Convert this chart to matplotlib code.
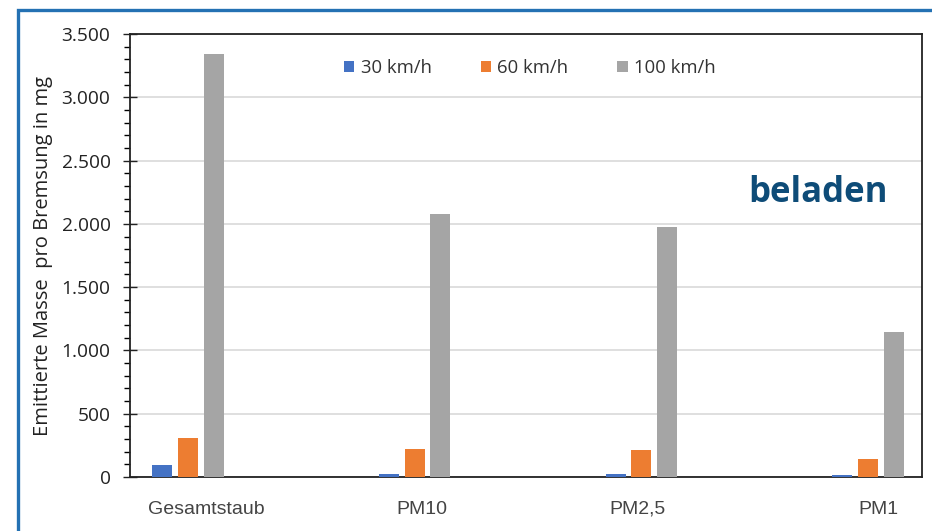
import matplotlib.pyplot as plt
from matplotlib.patches import Rectangle
from matplotlib.ticker import MultipleLocator, FuncFormatter
import numpy as np

# Emittierte Masse pro Bremsung in mg, beladenes Fahrzeug
kategorien = ['Gesamtstaub', 'PM10', 'PM2,5', 'PM1']
serien = ['30 km/h', '60 km/h', '100 km/h']
werte_30 = [95, 25, 22, 17]
werte_60 = [305, 219, 213, 140]
werte_100 = [3340, 2078, 1975, 1146]

farben = ['#4472C4', '#ED7D31', '#A5A5A5']

fig = plt.figure(figsize=(9.32, 5.31), dpi=100)
fig.patch.set_facecolor('white')

# blauer Rahmen oben und links
fig.patches.append(Rectangle((18 / 932, -0.2), 2, (531 - 10) / 531 + 0.2,
                             transform=fig.transFigure, fill=False,
                             edgecolor='#2471B3', linewidth=2.4, clip_on=False))

ax = fig.add_axes([130 / 932, 54 / 531, 792 / 932, 443 / 531])

x = np.arange(len(kategorien))
breite = 0.088
abstand = 0.113
for i, (werte, name) in enumerate(zip([werte_30, werte_60, werte_100], serien)):
    ax.bar(x + (i - 1) * abstand, werte, breite, color=farben[i], label=name, zorder=3)

ax.set_xlim(-0.256, 3.238)
ax.set_ylim(0, 3500)
ax.yaxis.set_major_locator(MultipleLocator(500))
ax.yaxis.set_minor_locator(MultipleLocator(100))
ax.yaxis.set_major_formatter(FuncFormatter(lambda v, p: f'{int(v):,}'.replace(',', '.')))
ax.tick_params(axis='y', which='major', direction='inout', length=10, width=1,
               labelsize=13.8, pad=9, colors='#222222')
ax.tick_params(axis='y', which='minor', direction='out', length=4, width=1)
for lbl in ax.get_yticklabels():
    lbl.set_fontfamily('Open Sans')

# Beschriftungen der Kategorien
label_pos = [0.079, 1.032, 1.985, 3.044]
ax.set_xticks(label_pos)
ax.set_xticklabels(kategorien, fontfamily='Liberation Sans', fontsize=14, color='#444444')
ax.tick_params(axis='x', length=0, pad=17)

ax.grid(axis='y', which='major', color='#D9D9D9', linewidth=1.2, zorder=0)
for s in ax.spines.values():
    s.set_color('#222222')
    s.set_linewidth(1.3)

ax.set_ylabel('Emittierte Masse  pro Bremsung in mg', fontfamily='Open Sans',
              fontsize=14.5, color='#222222', labelpad=6)

leg = ax.legend(loc='center', bbox_to_anchor=(0.505, 0.923), ncol=3, frameon=False,
                handlelength=0.55, handleheight=0.55, handletextpad=0.35,
                columnspacing=2.65, prop={'family': 'Open Sans', 'size': 13.3})
for t in leg.get_texts():
    t.set_color('#333333')

ax.text(0.957, 0.64, 'beladen', transform=ax.transAxes, ha='right', va='center',
        fontfamily='Open Sans', fontweight='bold', fontsize=25, color='#0E4C78')

fig.savefig('out.png', dpi=100)
